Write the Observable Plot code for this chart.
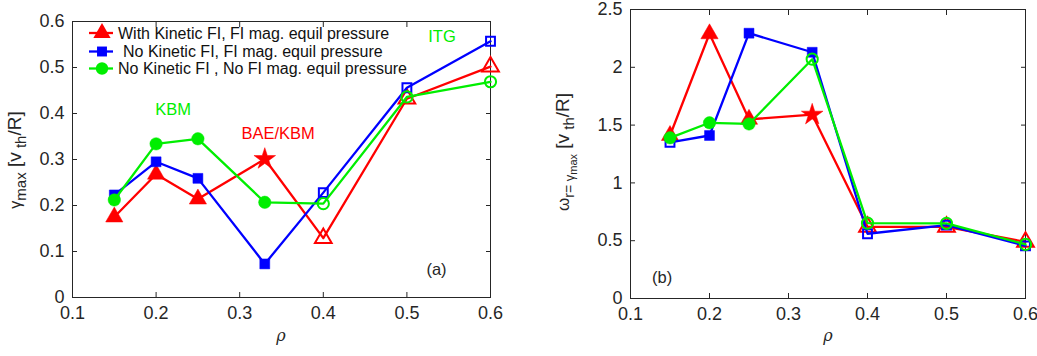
<!DOCTYPE html>
<html>
<head>
<meta charset="utf-8">
<script src="https://cdn.jsdelivr.net/npm/d3@7"></script>
<script src="https://cdn.jsdelivr.net/npm/@observablehq/plot@0.6"></script>
<style>
  body { margin: 0; background: #fff; }
  #figure { display: flex; width: 1037px; height: 356px; overflow: hidden; }
  #figure svg { flex: none; max-width: none; }
</style>
</head>
<body>
<div id="figure"></div>
<script>
// Radial positions of the scan
const rho = [0.15, 0.2, 0.25, 0.33, 0.4, 0.5, 0.6];

// Series names
const seriesNames = [
  "With Kinetic FI, FI mag. equil pressure",
  "No Kinetic FI, FI mag. equil pressure",
  "No Kinetic FI , No FI mag. equil pressure"
];

// Maximum growth rate gamma_max [v_th/R]
const gammaKineticFI   = [0.175, 0.268, 0.214, 0.301, 0.129, 0.432, 0.502];
const gammaNoKineticFI = [0.223, 0.295, 0.259, 0.073, 0.228, 0.456, 0.557];
const gammaNoFI        = [0.212, 0.334, 0.345, 0.207, 0.204, 0.436, 0.469];

// Real frequency at gamma_max [v_th/R]
const omegaKineticFI   = [1.41, 2.29, 1.55, 1.59, 0.62, 0.62, 0.49];
const omegaNoKineticFI = [1.35, 1.41, 2.295, 2.13, 0.56, 0.635, 0.455];
const omegaNoFI        = [1.39, 1.52, 1.51, 2.07, 0.652, 0.65, 0.468];

// Marker kind of each point: solid, hollow, or star
const kindGammaKineticFI   = ["solid", "solid", "solid", "star", "hollow", "hollow", "hollow"];
const kindGammaNoKineticFI = ["solid", "solid", "solid", "solid", "hollow", "hollow", "hollow"];
const kindGammaNoFI        = ["solid", "solid", "solid", "solid", "hollow", "hollow", "hollow"];
const kindOmegaKineticFI   = ["solid", "solid", "solid", "star", "hollow", "hollow", "hollow"];
const kindOmegaNoKineticFI = ["hollow", "solid", "solid", "solid", "hollow", "hollow", "hollow"];
const kindOmegaNoFI        = ["solid", "solid", "solid", "hollow", "hollow", "hollow", "hollow"];

// Tick values
const rhoTicks = [0.1, 0.2, 0.3, 0.4, 0.5, 0.6];
const gammaTicks = [0, 0.1, 0.2, 0.3, 0.4, 0.5, 0.6];
const omegaTicks = [0, 0.5, 1, 1.5, 2, 2.5];

// Mode labels
const gammaNotes = [
  { text: "ITG", x: 0.542, y: 0.566, color: "#00ee00" },
  { text: "KBM", x: 0.2205, y: 0.409, color: "#00ee00" },
  { text: "BAE/KBM", x: 0.346, y: 0.356, color: "#ff0000" },
  { text: "(a)", x: 0.5354, y: 0.061, color: "#262626" }
];
const omegaNotes = [
  { text: "(b)", x: 0.140, y: 0.182, color: "#262626" }
];

const styleOf = [
  { color: "#ff0000", symbol: "triangle" },
  { color: "#0000ff", symbol: "square" },
  { color: "#00ee00", symbol: "circle" }
];
const symbolRadius = { triangle: 6.4, square: 5.6, circle: 6.2 };
const hollowRadius = { triangle: 6.2, square: 5.0, circle: 5.6 };

const FONT = "'Liberation Sans', Arial, Helvetica, sans-serif";
const INK = "#262626";
const fmt = d3.format("~g");

function panel({ width, margin, yDomain, yTicks, values, kinds, notes }) {
  const marks = [Plot.frame({ stroke: INK, strokeWidth: 1 })];

  marks.push(
    Plot.axisX({ ticks: rhoTicks, anchor: "bottom", tickSize: -5, tickPadding: 14, tickFormat: fmt, label: null, stroke: INK, fill: INK }),
    Plot.axisX({ ticks: rhoTicks, anchor: "top", tickSize: -5, tickFormat: () => "", label: null, stroke: INK }),
    Plot.axisY({ ticks: yTicks, anchor: "left", tickSize: -5, tickPadding: 13, tickFormat: fmt, label: null, stroke: INK, fill: INK }),
    Plot.axisY({ ticks: yTicks, anchor: "right", tickSize: -5, tickFormat: () => "", label: null, stroke: INK })
  );

  values.forEach((vals, s) => {
    const { color, symbol } = styleOf[s];
    const pts = rho.map((x, i) => ({ x, y: vals[i], kind: kinds[s][i] }));
    marks.push(Plot.line(pts, { x: "x", y: "y", stroke: color, strokeWidth: 2.3 }));
    marks.push(Plot.dot(pts.filter(d => d.kind === "solid"), {
      x: "x", y: "y", symbol, r: symbolRadius[symbol], fill: color, stroke: color, strokeWidth: 0.5
    }));
    marks.push(Plot.dot(pts.filter(d => d.kind === "hollow"), {
      x: "x", y: "y", symbol, r: hollowRadius[symbol], fill: "none", stroke: color, strokeWidth: 2
    }));
    marks.push(Plot.dot(pts.filter(d => d.kind === "star"), {
      x: "x", y: "y", symbol: "star", r: 6.8, fill: color, stroke: color, strokeWidth: 0.5
    }));
  });

  marks.push(Plot.text(notes, { x: "x", y: "y", text: "text", fill: "color", fontSize: 16.5 }));

  const svg = Plot.plot({
    width,
    height: 356,
    marginLeft: margin[0],
    marginRight: margin[1],
    marginTop: margin[2],
    marginBottom: margin[3],
    x: { domain: [0.1, 0.6] },
    y: { domain: yDomain },
    style: { fontFamily: FONT, fontSize: "16px", background: "#fff", color: INK, overflow: "visible" },
    marks
  });

  // Larger tick labels
  d3.select(svg).selectAll('g[aria-label$="tick label"]').style("font-size", "18px");
  return svg;
}

const figure = document.getElementById("figure");

// Panel (a): growth rate
const svgA = panel({
  width: 518,
  margin: [72, 28, 21, 59],
  yDomain: [0, 0.6],
  yTicks: gammaTicks,
  values: [gammaKineticFI, gammaNoKineticFI, gammaNoFI],
  kinds: [kindGammaKineticFI, kindGammaNoKineticFI, kindGammaNoFI],
  notes: gammaNotes
});

// Panel (b): real frequency
const svgB = panel({
  width: 519,
  margin: [112, 12, 9, 58],
  yDomain: [0, 2.5],
  yTicks: omegaTicks,
  values: [omegaKineticFI, omegaNoKineticFI, omegaNoFI],
  kinds: [kindOmegaKineticFI, kindOmegaNoKineticFI, kindOmegaNoFI],
  notes: omegaNotes
});

figure.append(svgA, svgB);

// Axis titles
function rhoLabel(svg, cx) {
  d3.select(svg).append("text")
    .attr("x", cx).attr("y", 341)
    .attr("text-anchor", "middle")
    .attr("fill", INK)
    .style("font-family", "'DejaVu Serif', 'Liberation Serif', serif")
    .style("font-style", "italic")
    .style("font-size", "16px")
    .text("ρ");
}
rhoLabel(svgA, 281);
rhoLabel(svgB, 310);

{
  const t = d3.select(svgA).append("text")
    .attr("transform", "translate(21,160) rotate(-90)")
    .attr("text-anchor", "middle")
    .attr("fill", INK)
    .style("font-family", FONT)
    .style("font-size", "19px");
  t.append("tspan").style("font-size", "16px").text("γ");
  t.append("tspan").attr("dy", 5).style("font-size", "15px").text("max");
  t.append("tspan").attr("dy", -5).text(" [v");
  t.append("tspan").attr("dy", 5).style("font-size", "15px").text(" th");
  t.append("tspan").attr("dy", -5).text("/R]");
}
{
  const t = d3.select(svgB).append("text")
    .attr("transform", "translate(51,152) rotate(-90)")
    .attr("text-anchor", "middle")
    .attr("fill", INK)
    .style("font-family", FONT)
    .style("font-size", "19px");
  t.append("tspan").style("font-size", "17px").text("ω");
  t.append("tspan").attr("dy", 5).style("font-size", "14px").text("r=");
  t.append("tspan").style("font-size", "13px").text(" γ");
  t.append("tspan").attr("dy", 3).style("font-size", "11px").text("max");
  t.append("tspan").attr("dy", -8).text(" [v");
  t.append("tspan").attr("dy", 5).style("font-size", "15px").text(" th");
  t.append("tspan").attr("dy", -5).text("/R]");
}

// Legend inside panel (a)
{
  const g = d3.select(svgA).append("g").attr("class", "legend");
  const rows = [33, 51.5, 68.5];
  const textX = [118, 123, 118];
  seriesNames.forEach((name, s) => {
    const { color, symbol } = styleOf[s];
    const y = rows[s];
    g.append("line")
      .attr("x1", 89).attr("x2", 113).attr("y1", y).attr("y2", y)
      .attr("stroke", color).attr("stroke-width", 2.3);
    const sym = { triangle: d3.symbolTriangle, square: d3.symbolSquare, circle: d3.symbolCircle }[symbol];
    const r = symbolRadius[symbol];
    g.append("path")
      .attr("transform", `translate(102,${y})`)
      .attr("d", d3.symbol(sym, r * r * Math.PI)())
      .attr("fill", color);
    g.append("text")
      .attr("x", textX[s]).attr("y", y)
      .attr("dy", "0.35em")
      .attr("text-anchor", "start")
      .attr("fill", "#111")
      .style("font-family", FONT)
      .style("font-size", "16px")
      .text(name);
  });
}
</script>
</body>
</html>
